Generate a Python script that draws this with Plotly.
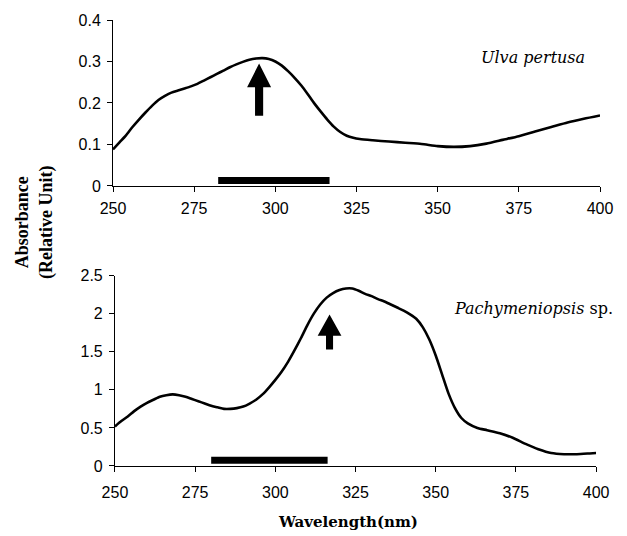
import plotly.graph_objects as go

# ---- data ----
wl_top = [250, 252, 254, 256, 258, 260, 262, 264, 266, 268, 270, 272, 274, 276, 278, 280,
          282, 284, 286, 288, 290, 292, 294, 296, 298, 300, 302, 304, 306, 308, 310, 312,
          314, 316, 318, 320, 322, 324, 326, 330, 335, 340, 345, 350, 355, 360, 365, 370,
          375, 380, 385, 390, 395, 400]
abs_top = [0.088, 0.105, 0.122, 0.142, 0.160, 0.177, 0.193, 0.207, 0.217, 0.225, 0.230, 0.235,
           0.240, 0.246, 0.254, 0.262, 0.270, 0.278, 0.286, 0.293, 0.299, 0.304, 0.307, 0.308,
           0.306, 0.300, 0.290, 0.276, 0.260, 0.242, 0.221, 0.199, 0.179, 0.160, 0.143, 0.130,
           0.121, 0.116, 0.113, 0.110, 0.107, 0.104, 0.101, 0.096, 0.094, 0.096, 0.102, 0.111,
           0.120, 0.131, 0.142, 0.153, 0.162, 0.170]

wl_bot = [250, 252, 254, 256, 258, 260, 262, 264, 266, 268, 270, 272, 274, 276, 278, 280,
          282, 284, 286, 288, 290, 292, 294, 296, 298, 300, 302, 304, 306, 308, 310, 312,
          314, 316, 318, 320, 322, 324, 326, 328, 330, 332, 334, 336, 338, 340, 342, 344,
          346, 348, 350, 352, 354, 356, 358, 360, 363, 366, 370, 374, 378, 382, 386, 390,
          394, 398, 400]
abs_bot = [0.52, 0.59, 0.65, 0.72, 0.78, 0.83, 0.87, 0.91, 0.93, 0.94, 0.93, 0.91, 0.88, 0.85,
           0.82, 0.79, 0.77, 0.75, 0.75, 0.76, 0.78, 0.82, 0.87, 0.94, 1.03, 1.13, 1.24, 1.37,
           1.52, 1.68, 1.85, 2.00, 2.12, 2.21, 2.27, 2.31, 2.33, 2.33, 2.30, 2.26, 2.23, 2.19,
           2.16, 2.12, 2.08, 2.04, 1.99, 1.93, 1.82, 1.66, 1.45, 1.20, 0.95, 0.76, 0.63, 0.56,
           0.50, 0.47, 0.43, 0.37, 0.29, 0.22, 0.17, 0.155, 0.155, 0.165, 0.17]

# bars (band range, nm) and arrows (peak wavelength)
bar_top_range = [282.4, 316.7]
bar_bot_range = [280.0, 316.3]
arrow_top_x = 295.0
arrow_bot_x = 316.9

x_ticks = [250, 275, 300, 325, 350, 375, 400]

fig = go.Figure()
line_style = dict(color="black", width=2.6, shape="spline", smoothing=0.6)
fig.add_trace(go.Scatter(x=wl_top, y=abs_top, mode="lines", line=line_style,
                         xaxis="x", yaxis="y", showlegend=False))
fig.add_trace(go.Scatter(x=wl_bot, y=abs_bot, mode="lines", line=line_style,
                         xaxis="x2", yaxis="y2", showlegend=False))

# black bars
fig.add_shape(type="line", xref="x", yref="y", x0=bar_top_range[0], x1=bar_top_range[1],
              y0=0.013, y1=0.013, line=dict(color="black", width=7))
fig.add_shape(type="line", xref="x2", yref="y2", x0=bar_bot_range[0], x1=bar_bot_range[1],
              y0=0.075, y1=0.075, line=dict(color="black", width=7))


def arrow_path(xc, tip, base, bottom, hw, sw):
    return (f"M {xc - sw} {bottom} L {xc + sw} {bottom} L {xc + sw} {base} "
            f"L {xc + hw} {base} L {xc} {tip} L {xc - hw} {base} L {xc - sw} {base} Z")


fig.add_shape(type="path", xref="x", yref="y",
              path=arrow_path(arrow_top_x, 0.295, 0.238, 0.169, 3.7, 1.25),
              fillcolor="black", line=dict(color="black", width=0))
fig.add_shape(type="path", xref="x2", yref="y2",
              path=arrow_path(arrow_bot_x, 1.99, 1.71, 1.53, 3.7, 1.1),
              fillcolor="black", line=dict(color="black", width=0))

tickfont = dict(family="Liberation Sans, Arial", size=16, color="black")
axis_common = dict(showline=True, linecolor="black", linewidth=1, ticks="outside",
                   ticklen=5, tickcolor="black", showgrid=False, zeroline=False,
                   tickfont=tickfont)

fig.update_layout(
    width=627, height=536,
    margin=dict(l=113, r=27, t=14, b=70),
    paper_bgcolor="white", plot_bgcolor="white",
    xaxis=dict(domain=[0, 1], range=[250, 400], tickvals=x_ticks, anchor="y",
               ticklabelstandoff=3, **axis_common),
    yaxis=dict(domain=[0.628, 1], range=[0, 0.4], tickvals=[0, 0.1, 0.2, 0.3, 0.4],
               ticktext=["0", "0.1", "0.2", "0.3", "0.4"], anchor="x",
               ticklabelstandoff=3, **axis_common),
    xaxis2=dict(domain=[0.004, 0.992], range=[250, 400], tickvals=x_ticks, anchor="y2",
                ticklabelstandoff=7, **axis_common),
    yaxis2=dict(domain=[0, 0.427], range=[0, 2.5], tickvals=[0, 0.5, 1, 1.5, 2, 2.5],
                ticktext=["0", "0.5", "1", "1.5", "2", "2.5"], anchor="x2",
                ticklabelstandoff=3, **axis_common),
)

fig.add_annotation(text="Wavelength(nm)", xref="paper", yref="paper", x=0.483, y=-57 / 452,
                   showarrow=False, xanchor="center", yanchor="middle",
                   font=dict(family="DejaVu Serif", size=15, color="black", weight="bold"))
fig.add_annotation(text="Absorbance<br>(Relative Unit)", xref="paper", yref="paper",
                   x=-0.162, y=0.545, textangle=-90, showarrow=False,
                   xanchor="center", yanchor="middle",
                   font=dict(family="Liberation Serif", size=18, color="black", weight="bold"))

fig.add_annotation(text="<i>Ulva pertusa</i>", xref="x", yref="y", x=379.3, y=0.31,
                   showarrow=False, font=dict(family="DejaVu Serif", size=16, color="black"))
fig.add_annotation(text="<i>Pachymeniopsis</i> sp.", xref="x2", yref="y2", x=380.6, y=2.07,
                   showarrow=False, font=dict(family="DejaVu Serif", size=16, color="black"))

fig.write_html("out.html")
